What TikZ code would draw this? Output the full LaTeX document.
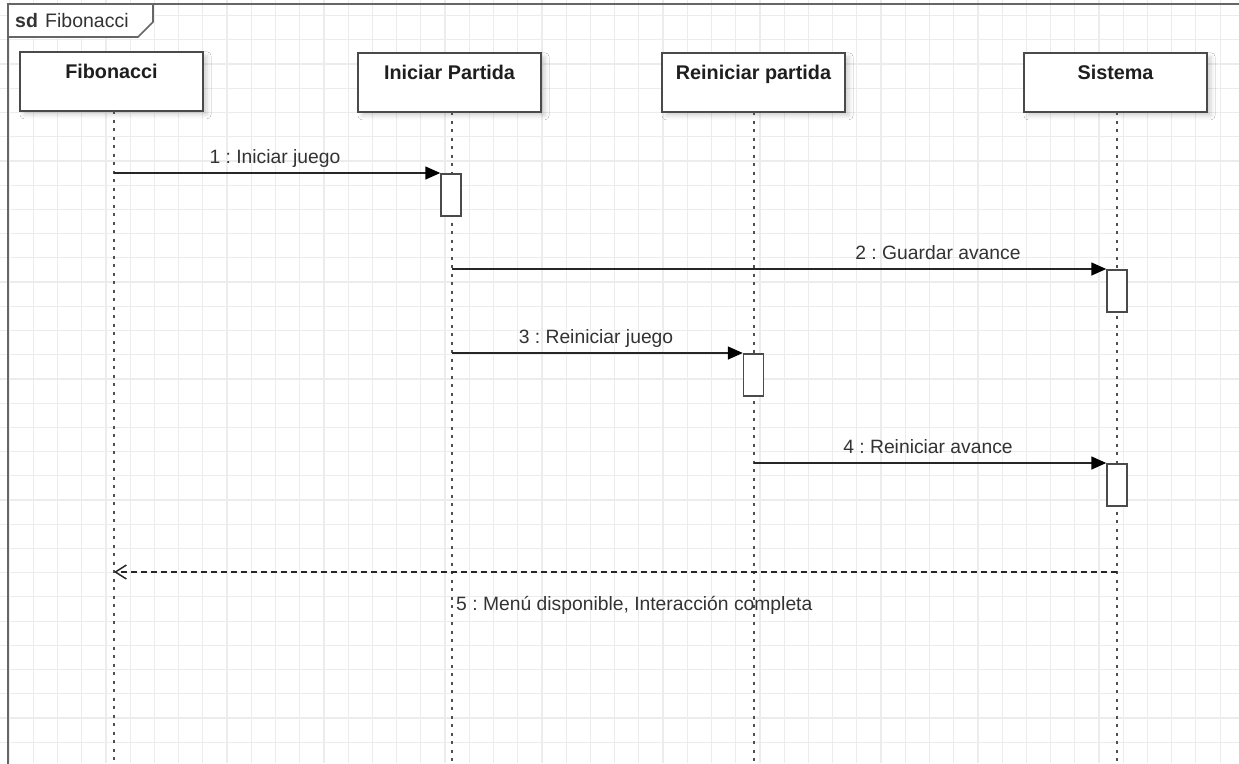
\documentclass[tikz,border=0pt]{standalone}
\usepackage{fontspec}
\setmainfont{Liberation Sans}
\usetikzlibrary{arrows.meta,shadows.blur}
\frenchspacing

\definecolor{gridline}{HTML}{ECECEC}
\definecolor{ink}{HTML}{333333}
\definecolor{lineink}{HTML}{262626}
\definecolor{headink}{HTML}{1E1E1E}
\definecolor{boxline}{HTML}{4A4A4A}
\definecolor{lifegray}{HTML}{505050}
\definecolor{framegray}{HTML}{666666}

\begin{document}
\begin{tikzpicture}[x=1pt,y=-1pt,
  header/.style={draw=boxline, line width=1.6pt, fill=white,
    minimum width=183pt, inner sep=0pt, anchor=north,
    text height=27pt, text depth=32pt, text=headink,
    font=\fontsize{19.8}{23}\selectfont\bfseries,
    blur shadow={shadow xshift=4pt, shadow yshift=-4pt,
      shadow blur radius=4pt, shadow opacity=18}},
  activation/.style={draw=boxline, line width=1.5pt, fill=white,
    minimum width=20pt, minimum height=42pt, inner sep=0pt, anchor=north},
  lifeline/.style={draw=lifegray, line width=1.8pt, dash pattern=on 3pt off 5.5pt},
  msg/.style={draw=lineink, line width=1.6pt,
    -{Triangle[length=15pt,width=13pt,fill=black,color=black]}},
  reply/.style={draw=lineink, line width=1.5pt, dash pattern=on 6pt off 4pt,
    -{Straight Barb[length=11pt,width=14pt,line width=1.5pt]}},
  msglabel/.style={text=ink, inner sep=0pt, anchor=base,
    font=\fontsize{19.3}{23}\selectfont},
  framelabel/.style={text=ink, inner sep=0pt, anchor=base west,
    font=\fontsize{19.5}{23}\selectfont}
]
\useasboundingbox (0,0) rectangle (1239,763);
\fill[white] (0,0) rectangle (1239,763);

% background grid
\foreach \i in {0,...,50}
  \draw[gridline, line width=1.2pt] ({9.1+24.22*\i},0) -- ({9.1+24.22*\i},763);
\foreach \j in {0,...,31}
  \draw[gridline, line width=1.2pt] (0,{15.6+24.22*\j}) -- (1239,{15.6+24.22*\j});

% interaction frame
\draw[framegray, line width=2.4pt] (8,770) -- (8,4) -- (1245,4);
\draw[framegray, line width=1.6pt, fill=white]
  (8,4) -- (153,4) -- (153,22) -- (138,37) -- (8,37) -- cycle;
\node[framelabel] (sdkw) at (15,27) {\bfseries sd};
\node[framelabel] (sdname) at (45,27) {Fibonacci};

% participants
\node[header] (fib) at (111.5,51) {Fibonacci};
\node[header] (ini) at (449.5,52) {Iniciar Partida};
\node[header] (rei) at (753.5,52) {Reiniciar partida};
\node[header] (sis) at (1115.5,52) {Sistema};

% lifeline ends
\coordinate (fibTop) at (114,111);
\coordinate (iniTop) at (452,112);
\coordinate (reiTop) at (754,112);
\coordinate (sisTop) at (1117,112);
\coordinate (fibEnd) at (114,770);
\coordinate (iniEnd) at (452,770);
\coordinate (reiEnd) at (754,770);
\coordinate (sisEnd) at (1117,770);
\draw[lifeline] (fibTop) -- (fibEnd);
\draw[lifeline] (iniTop) -- (iniEnd);
\draw[lifeline] (reiTop) -- (reiEnd);
\draw[lifeline] (sisTop) -- (sisEnd);

% activations
\node[activation] (actA) at (451,173) {};
\node[activation] (actB) at (1117,269) {};
\node[activation] (actC) at (753.5,353) {};
\node[activation] (actD) at (1117,463) {};

% message sources
\coordinate (src1) at (114,173);
\coordinate (src2) at (452,269);
\coordinate (src3) at (452,353);
\coordinate (src4) at (754,463);
\coordinate (src5) at (1117,572);
\coordinate (dst5) at (114,572);

% messages
\draw[msg] (src1) -- (actA.north west);
\node[msglabel] (lab1) at (275,163) {1 : Iniciar juego};

\draw[msg] (src2) -- (actB.north west);
\node[msglabel] (lab2) at (938,259) {2 : Guardar avance};

\draw[msg] (src3) -- (actC.north west);
\node[msglabel] (lab3) at (596,343) {3 : Reiniciar juego};

\draw[msg] (src4) -- (actD.north west);
\node[msglabel] (lab4) at (928,453) {4 : Reiniciar avance};

\draw[reply] (src5) -- (dst5);
\node[msglabel, anchor=base west] (lab5) at (456,610) {5 : Menú disponible, Interacción completa};
\end{tikzpicture}
\end{document}
